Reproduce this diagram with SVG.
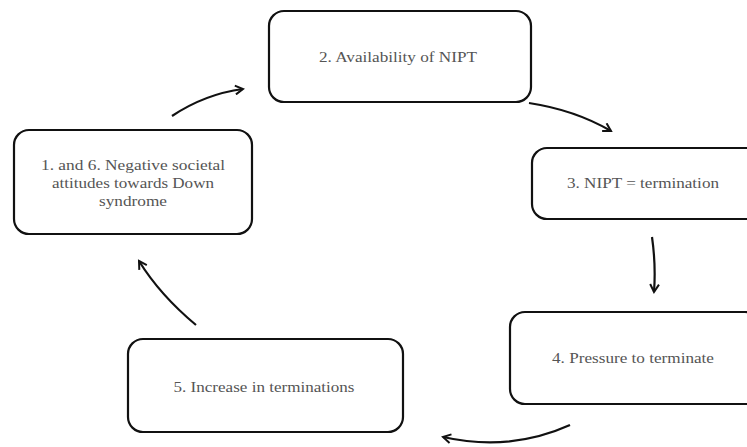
<svg xmlns="http://www.w3.org/2000/svg" width="747" height="447" viewBox="0 0 747 447">
<style>
.box{fill:#fff;stroke:#111;stroke-width:2.2}
.t{font-family:'Liberation Serif','Times New Roman','DejaVu Serif',serif;font-size:15px;fill:#555;text-anchor:middle}
.c{fill:none;stroke:#111;stroke-width:2.2;marker-end:url(#ah)}
</style>
<defs>
<marker id="ah" viewBox="0 0 10 10" refX="8" refY="5" markerWidth="5" markerHeight="5" orient="auto" markerUnits="strokeWidth">
<path d="M1,1 L8,5 L1,9" fill="none" stroke="#111" stroke-width="1.8"/>
</marker>
</defs>
<rect width="747" height="447" fill="#fff"/>
<g id="n2"><rect class="box" x="269" y="11" width="262" height="91" rx="15"/><text class="t" x="398" y="62" textLength="158" lengthAdjust="spacingAndGlyphs">2. Availability of NIPT</text></g>
<g id="n1"><rect class="box" x="14" y="130" width="238" height="104" rx="15"/>
<text class="t" x="133" y="170" textLength="184" lengthAdjust="spacingAndGlyphs">1. and 6. Negative societal</text>
<text class="t" x="133" y="188" textLength="162" lengthAdjust="spacingAndGlyphs">attitudes towards Down</text>
<text class="t" x="133" y="206" textLength="68" lengthAdjust="spacingAndGlyphs">syndrome</text></g>
<g id="n3"><rect class="box" x="532" y="148" width="230" height="71" rx="15"/><text class="t" x="643" y="188" textLength="152" lengthAdjust="spacingAndGlyphs">3. NIPT = termination</text></g>
<g id="n4"><rect class="box" x="510" y="312" width="250" height="92" rx="15"/><text class="t" x="633" y="363" textLength="162" lengthAdjust="spacingAndGlyphs">4. Pressure to terminate</text></g>
<g id="n5"><rect class="box" x="128" y="339" width="275" height="93" rx="15"/><text class="t" x="264" y="392" textLength="181" lengthAdjust="spacingAndGlyphs">5. Increase in terminations</text></g>
<g id="connectors">
<path class="c" d="M172,116 Q205,94 243,89"/>
<path class="c" d="M529,103 Q575,110 611,131"/>
<path class="c" d="M652,237 Q656,265 654,292"/>
<path class="c" d="M570,425 Q510,452 443,437"/>
<path class="c" d="M196,325 Q160,295 139,261"/>
</g>
</svg>
